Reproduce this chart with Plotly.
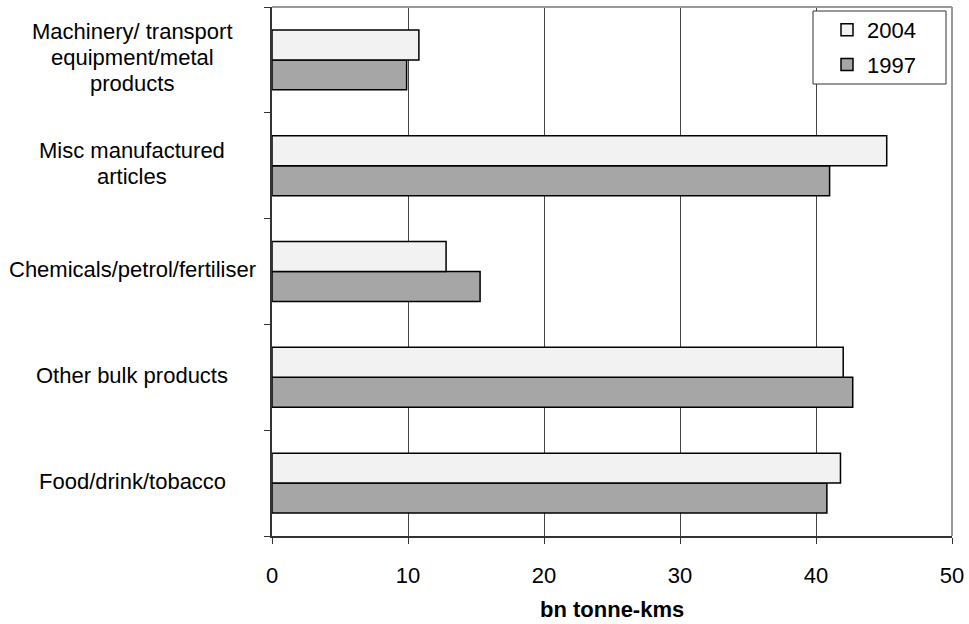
import plotly.graph_objects as go

# Freight moved by commodity group, bn tonne-kms (bottom to top)
categories = [
    "Food/drink/tobacco",
    "Other bulk products",
    "Chemicals/petrol/fertiliser",
    "Misc manufactured articles",
    "Machinery/ transport equipment/metal products",
]
label_lines = [
    ["Food/drink/tobacco"],
    ["Other bulk products"],
    ["Chemicals/petrol/fertiliser"],
    ["Misc manufactured", "articles"],
    ["Machinery/ transport", "equipment/metal", "products"],
]
values_1997 = [40.8, 42.7, 15.3, 41.0, 9.9]
values_2004 = [41.8, 42.0, 12.8, 45.2, 10.8]
x_ticks = [0, 10, 20, 30, 40, 50]
x_title = "bn tonne-kms"

FONT = "Liberation Sans, Arial, sans-serif"
FS = 22
W, H = 969, 624
L, R, T, B = 272, 17, 7, 88
plot_w, plot_h = W - L - R, H - T - B


def px_x(p):
    return (p - L) / plot_w


def px_y(p):
    return (H - B - p) / plot_h


fig = go.Figure()
fig.add_trace(go.Bar(
    y=categories, x=values_1997, orientation="h", name="1997",
    legendgroup="g1997", legendrank=2,
    marker=dict(color="#a6a6a6", line=dict(color="#000000", width=1.5)),
))
fig.add_trace(go.Bar(
    y=categories, x=values_2004, orientation="h", name="2004",
    legendgroup="g2004", legendrank=1,
    marker=dict(color="#f2f2f2", line=dict(color="#000000", width=1.5)),
))

# Centered multi-line category labels
LINE_GAP = 26
for cat, lines in zip(categories, label_lines):
    n = len(lines)
    for i, line in enumerate(lines):
        fig.add_annotation(
            x=px_x(132), xref="paper", y=cat, yref="y",
            text=line, showarrow=False, xanchor="center", yanchor="middle",
            yshift=((n - 1) / 2 - i) * LINE_GAP + 2,
            font=dict(family=FONT, size=FS, color="#000000"),
        )

# x-axis title
fig.add_annotation(
    x=0.5, xref="paper", y=px_y(609), yref="paper",
    text="<b>" + x_title + "</b>", showarrow=False,
    xanchor="center", yanchor="middle",
    font=dict(family=FONT, size=FS, color="#000000"),
)

# Plot-area frame (top and right) and legend box
fig.add_shape(type="line", xref="paper", yref="paper", x0=0, x1=1, y0=1, y1=1,
              line=dict(color="#999999", width=2))
fig.add_shape(type="line", xref="paper", yref="paper", x0=1, x1=1, y0=0, y1=1,
              line=dict(color="#999999", width=2))
fig.add_shape(type="rect", xref="paper", yref="paper", layer="above",
              x0=px_x(813), x1=px_x(946), y0=px_y(84), y1=px_y(11),
              line=dict(color="#333333", width=1), fillcolor="#ffffff")

fig.update_layout(
    width=W, height=H,
    margin=dict(l=L, r=R, t=T, b=B, autoexpand=False),
    paper_bgcolor="#ffffff", plot_bgcolor="#ffffff",
    barmode="group", bargap=0.434, bargroupgap=0,
    font=dict(family=FONT, size=FS, color="#000000"),
    showlegend=True,
    legend=dict(
        x=px_x(827), xanchor="left", y=px_y(9), yanchor="top",
        bgcolor="rgba(0,0,0,0)", borderwidth=0,
        traceorder="grouped", tracegroupgap=3,
        font=dict(family=FONT, size=FS, color="#000000"),
    ),
    xaxis=dict(
        range=[0, 50], tickvals=x_ticks, ticktext=[str(v) for v in x_ticks],
        showgrid=True, gridcolor="#444444", gridwidth=1,
        zeroline=False, showline=True, linecolor="#333333", linewidth=1.5,
        ticks="outside", ticklen=6, tickcolor="#333333",
        ticklabelstandoff=13, automargin=False,
        tickfont=dict(family=FONT, size=FS),
    ),
    yaxis=dict(
        type="category", categoryorder="array", categoryarray=categories,
        range=[-0.5, 4.5], automargin=False,
        showgrid=False, zeroline=False, showticklabels=False,
        showline=True, linecolor="#333333", linewidth=1.5,
        ticks="outside", ticklen=6, tickcolor="#333333", tickson="boundaries",
    ),
)

fig.write_html("out.html")
